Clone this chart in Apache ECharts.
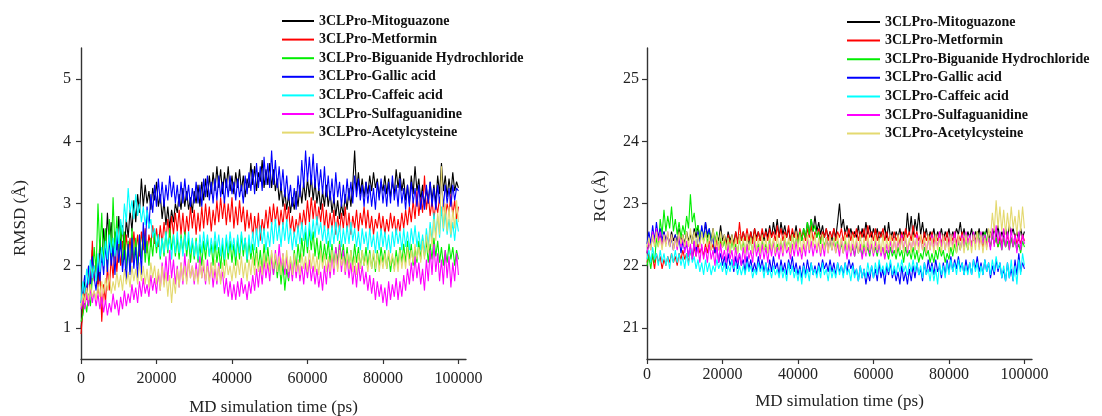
<!DOCTYPE html>
<html>
<head>
<meta charset="utf-8">
<script src="https://cdn.jsdelivr.net/npm/echarts@6/dist/echarts.min.js"></script>
<style>
  html, body { margin: 0; padding: 0; background: #fff; }
  #chart { width: 1102px; height: 416px; }
</style>
</head>
<body>
<div id="chart"></div>
<script>
// Trajectory frames are written every 500 ps over 100 ns.
const FRAME_STEP_PS = 500;

const seriesNames = [
  '3CLPro-Mitoguazone',
  '3CLPro-Metformin',
  '3CLPro-Biguanide Hydrochloride',
  '3CLPro-Gallic acid',
  '3CLPro-Caffeic acid',
  '3CLPro-Sulfaguanidine',
  '3CLPro-Acetylcysteine'
];
const seriesColors = ['#000000', '#ff0000', '#00ee00', '#0000ff', '#00ffff', '#ff00ff', '#e4d970'];

const xTicks = [0, 20000, 40000, 60000, 80000, 100000];
const rmsdTicks = [1, 2, 3, 4, 5];
const rgTicks = [21, 22, 23, 24, 25];

// RMSD (Å) per frame
const rmsdMitoguazone = [1.00,
  1.30,1.75,1.45,2.00,1.60,2.25,1.85,2.10,1.70,2.40,
  2.05,2.60,2.20,2.85,2.35,2.70,2.15,2.55,2.25,2.80,
  2.30,2.65,2.20,2.75,2.45,2.90,2.55,3.05,2.70,3.15,
  2.85,3.40,2.95,3.30,3.00,3.20,2.90,3.25,3.05,3.35,
  2.95,3.15,2.75,3.05,2.65,2.95,2.60,2.90,2.70,3.00,
  2.85,3.15,2.90,3.25,2.95,3.20,2.90,3.10,2.85,3.20,
  3.00,3.30,2.95,3.35,3.05,3.40,3.10,3.45,3.15,3.50,
  3.20,3.60,3.25,3.55,3.15,3.50,3.25,3.60,3.20,3.45,
  3.15,3.50,3.25,3.55,3.20,3.45,3.10,3.40,3.25,3.65,
  3.30,3.60,3.20,3.50,3.35,3.70,3.25,3.55,3.30,3.65,
  3.25,3.55,3.20,3.40,3.05,3.30,2.95,3.20,2.90,3.15,
  2.85,3.10,2.90,3.20,2.95,3.30,3.00,3.35,3.05,3.40,
  3.10,3.45,3.05,3.35,3.00,3.25,2.90,3.20,2.95,3.30,
  2.95,3.20,2.85,3.10,2.80,3.05,2.75,3.00,2.80,3.15,
  2.90,3.25,2.95,3.30,3.85,3.20,3.50,3.15,3.40,3.10,
  3.35,3.15,3.45,3.20,3.50,3.25,3.40,3.10,3.35,3.20,
  3.45,3.15,3.40,3.10,3.35,3.15,3.55,3.25,3.50,3.20,
  3.40,3.05,3.30,3.00,3.45,3.15,3.60,3.20,3.40,3.05,
  3.30,2.95,3.25,3.00,3.35,3.05,3.30,3.00,3.45,3.15,
  3.65,3.20,3.45,3.10,3.40,3.15,3.50,3.20,3.35,3.25];

const rmsdMetformin = [0.90,
  1.30,1.65,1.45,1.90,1.60,2.40,1.75,2.05,1.55,1.95,
  1.10,1.70,1.40,2.00,1.60,2.15,1.80,2.30,1.90,2.35,
  2.00,2.40,2.10,2.50,2.15,2.45,2.05,2.55,2.20,2.50,
  2.15,2.55,2.25,2.60,2.20,2.50,2.30,2.65,2.35,2.60,
  2.30,2.65,2.35,2.70,2.40,2.75,2.45,2.80,2.50,2.85,
  2.55,2.90,2.50,2.85,2.45,2.80,2.55,2.95,2.60,2.90,
  2.50,2.85,2.55,2.95,2.60,3.00,2.65,2.95,2.55,2.90,
  2.65,3.05,2.70,3.10,2.75,3.05,2.65,3.00,2.70,3.10,
  2.60,2.95,2.65,3.05,2.70,2.95,2.55,2.90,2.60,2.85,
  2.45,2.80,2.50,2.85,2.40,2.75,2.55,2.90,2.60,2.95,
  2.65,3.00,2.70,2.95,2.60,2.90,2.65,3.00,2.70,2.95,
  2.55,2.80,2.50,2.75,2.55,2.85,2.60,2.90,2.65,3.05,
  2.70,3.10,2.75,3.05,2.65,2.95,2.70,3.00,2.60,2.90,
  2.55,2.85,2.60,2.90,2.50,2.80,2.55,2.85,2.60,2.95,
  2.55,2.85,2.50,2.80,2.60,2.90,2.55,2.85,2.65,2.95,
  2.60,2.90,2.55,2.80,2.50,2.75,2.60,2.85,2.55,2.80,
  2.50,2.75,2.55,2.85,2.60,2.80,2.50,2.75,2.55,2.85,
  2.60,2.90,2.65,2.95,2.70,3.05,2.75,3.20,2.80,3.10,
  2.85,3.45,2.90,3.15,2.80,3.05,2.75,3.00,2.85,3.10,
  2.80,3.05,2.75,3.00,2.85,3.15,2.80,3.05,2.75,2.95];

const rmsdBiguanide = [1.10,
  1.20,1.45,1.25,1.55,1.35,1.80,2.30,1.90,3.00,2.20,
  2.85,2.00,2.60,1.90,2.75,2.10,3.10,2.25,2.80,2.05,
  2.70,2.00,2.55,1.95,2.40,1.90,2.60,2.05,2.45,2.00,
  2.50,2.10,2.55,2.05,2.40,2.00,2.45,2.15,2.55,2.20,
  2.50,2.10,2.45,2.15,2.55,2.20,2.60,2.25,2.50,2.15,
  2.45,2.10,2.50,2.20,2.55,2.15,2.45,2.05,2.40,2.10,
  2.45,2.05,2.35,2.00,2.40,2.10,2.45,2.15,2.35,2.00,
  2.40,2.05,2.30,1.95,2.35,2.00,2.45,2.10,2.40,2.05,
  2.35,2.00,2.45,2.10,2.50,2.15,2.45,2.05,2.40,2.10,
  2.35,2.00,2.30,1.95,2.25,1.90,2.35,2.00,2.30,1.95,
  2.20,1.85,2.15,1.80,2.10,1.70,2.05,1.60,1.95,1.75,
  2.10,1.85,2.25,1.95,2.35,2.05,2.45,2.15,2.55,2.20,
  2.60,2.25,2.55,2.15,2.45,2.10,2.40,2.05,2.35,2.10,
  2.40,2.05,2.35,2.00,2.30,2.05,2.40,2.10,2.35,2.00,
  2.30,1.95,2.25,2.00,2.35,2.05,2.30,1.95,2.25,2.00,
  2.30,2.00,2.25,1.95,2.20,1.90,2.25,2.00,2.30,2.05,
  2.25,1.95,2.20,1.90,2.15,1.95,2.25,2.00,2.30,2.05,
  2.35,2.05,2.40,2.10,2.35,2.00,2.30,2.05,2.40,2.10,
  2.45,2.15,2.40,2.05,2.35,2.10,2.45,2.15,2.40,2.05,
  2.30,2.00,2.25,2.05,2.35,2.10,2.30,2.00,2.25,2.10];

const rmsdGallic = [1.40,
  1.60,1.85,1.55,2.00,1.70,2.15,1.80,1.60,2.05,1.75,
  2.20,1.85,2.35,1.90,2.45,2.00,2.30,1.85,2.50,2.05,
  2.40,1.90,2.25,1.75,2.35,1.85,2.45,1.95,2.30,1.80,
  2.50,1.85,2.70,2.20,2.95,2.60,3.15,2.85,3.30,2.95,
  3.40,3.00,3.35,2.95,3.30,3.05,3.45,3.10,3.35,3.00,
  3.30,2.95,3.35,3.00,3.40,3.05,3.30,2.95,3.25,3.00,
  3.35,3.00,3.30,2.95,3.40,3.10,3.45,3.05,3.35,3.00,
  3.40,3.05,3.45,3.10,3.35,3.00,3.40,3.10,3.45,3.15,
  3.35,3.05,3.40,3.10,3.30,3.00,3.45,3.15,3.50,3.20,
  3.55,3.15,3.65,3.25,3.60,3.20,3.75,3.30,3.65,3.25,
  3.85,3.30,3.70,3.25,3.60,3.20,3.55,3.10,3.45,3.05,
  3.30,2.95,3.25,2.90,3.45,3.10,3.70,3.25,3.85,3.35,
  3.75,3.30,3.80,3.25,3.65,3.20,3.55,3.15,3.60,3.10,
  3.45,3.05,3.40,3.00,3.50,3.10,3.35,2.95,3.30,3.00,
  3.40,3.05,3.35,3.00,3.45,3.10,3.40,3.05,3.30,2.95,
  3.35,3.00,3.30,2.95,3.25,2.90,3.35,3.05,3.40,3.00,
  3.30,2.95,3.35,3.00,3.45,3.05,3.30,2.95,3.40,3.00,
  3.25,2.90,3.30,2.95,3.35,3.00,3.25,2.95,3.30,2.90,
  3.20,2.90,3.30,3.00,3.35,2.95,3.25,2.90,3.30,3.00,
  3.35,2.95,3.30,3.00,3.25,2.95,3.30,3.05,3.25,3.20];

const rmsdCaffeic = [1.40,
  1.75,1.55,1.95,1.70,2.10,1.80,2.00,1.75,2.20,1.90,
  2.30,2.00,2.40,2.10,2.50,2.20,2.45,2.15,2.60,2.35,
  2.75,2.50,3.00,2.70,3.25,2.85,3.05,2.75,3.15,2.80,
  3.00,2.70,2.95,2.65,2.90,2.60,2.75,2.45,2.60,2.30,
  2.50,2.15,2.45,2.20,2.55,2.25,2.45,2.10,2.50,2.20,
  2.55,2.20,2.45,2.15,2.50,2.25,2.55,2.20,2.45,2.15,
  2.40,2.10,2.50,2.20,2.55,2.25,2.50,2.15,2.45,2.20,
  2.55,2.25,2.50,2.15,2.45,2.10,2.50,2.20,2.55,2.25,
  2.45,2.15,2.50,2.20,2.55,2.25,2.45,2.10,2.50,2.20,
  2.55,2.25,2.60,2.30,2.65,2.35,2.60,2.25,2.55,2.30,
  2.70,2.35,2.75,2.40,2.65,2.30,2.70,2.40,2.75,2.35,
  2.60,2.25,2.55,2.30,2.65,2.35,2.70,2.40,2.65,2.30,
  2.70,2.40,2.75,2.45,2.80,2.50,2.70,2.40,2.65,2.35,
  2.60,2.30,2.65,2.35,2.70,2.40,2.65,2.30,2.60,2.35,
  2.65,2.35,2.70,2.40,2.60,2.30,2.55,2.25,2.60,2.35,
  2.55,2.25,2.60,2.30,2.50,2.20,2.55,2.25,2.60,2.30,
  2.55,2.25,2.50,2.20,2.55,2.30,2.60,2.35,2.55,2.25,
  2.60,2.30,2.55,2.25,2.60,2.35,2.65,2.30,2.55,2.25,
  2.50,2.20,2.60,2.30,2.70,2.40,2.85,2.50,2.80,2.45,
  2.95,2.55,2.85,2.50,2.75,2.45,2.70,2.40,2.75,2.55];

const rmsdSulfaguanidine = [1.30,
  1.45,1.30,1.55,1.35,1.65,1.40,1.60,1.35,1.55,1.30,
  1.50,1.25,1.45,1.20,1.40,1.25,1.55,1.30,1.45,1.20,
  1.50,1.30,1.60,1.35,1.55,1.40,1.70,1.45,1.65,1.40,
  1.75,1.50,1.80,1.55,1.70,1.50,1.85,1.60,1.80,1.55,
  1.90,1.60,2.05,1.70,2.15,1.75,2.25,1.80,2.10,1.70,
  2.00,1.65,2.05,1.70,2.20,1.75,2.10,1.80,2.00,1.70,
  2.05,1.75,2.15,1.80,2.00,1.70,2.10,1.75,2.05,1.65,
  1.95,1.70,2.05,1.75,1.90,1.55,1.80,1.50,1.75,1.45,
  1.70,1.45,1.75,1.50,1.80,1.55,1.70,1.45,1.75,1.55,
  1.85,1.60,1.95,1.65,2.00,1.70,2.10,1.80,2.05,1.75,
  2.15,1.85,2.25,1.90,2.35,1.95,2.20,1.85,2.15,1.80,
  2.05,1.75,2.15,1.80,2.10,1.75,2.00,1.70,2.05,1.80,
  2.10,1.75,2.00,1.70,1.95,1.65,1.90,1.60,2.00,1.70,
  2.10,1.80,2.20,1.85,2.30,1.95,2.35,1.90,2.25,1.85,
  2.15,1.80,2.05,1.70,2.00,1.65,2.05,1.75,2.00,1.70,
  1.90,1.60,1.85,1.55,1.80,1.45,1.75,1.50,1.70,1.40,
  1.65,1.35,1.75,1.45,1.70,1.50,1.80,1.45,1.75,1.50,
  1.85,1.60,1.95,1.70,2.05,1.75,2.15,1.80,2.05,1.70,
  1.95,1.60,2.10,1.75,2.25,1.85,2.35,1.90,2.20,1.75,
  2.10,1.70,2.25,1.80,2.15,1.65,2.05,1.75,2.20,1.85];

const rmsdAcetylcysteine = [1.35,
  1.55,1.40,1.65,1.45,1.70,1.50,1.60,1.45,1.70,1.50,
  1.75,1.55,1.80,1.60,1.85,1.55,1.75,1.60,1.90,1.65,
  1.85,1.60,1.95,1.70,1.90,1.65,2.00,1.75,1.95,1.70,
  2.05,1.75,2.00,1.70,1.95,1.65,2.05,1.80,2.00,1.70,
  1.95,1.60,2.00,1.65,1.90,1.50,1.85,1.40,1.80,1.55,
  1.95,1.65,2.05,1.75,2.00,1.70,2.10,1.80,2.00,1.75,
  1.95,1.70,2.05,1.80,2.10,1.75,2.00,1.70,2.05,1.80,
  2.10,1.75,2.00,1.70,2.05,1.80,2.10,1.85,2.00,1.75,
  2.05,1.80,2.10,1.85,2.15,1.80,2.05,1.75,2.10,1.85,
  2.15,1.85,2.20,1.90,2.10,1.85,2.20,1.95,2.15,1.90,
  2.25,1.95,2.20,1.90,2.15,1.85,2.20,1.95,2.25,1.90,
  2.15,1.85,2.20,1.90,2.10,1.85,2.20,1.95,2.15,1.90,
  2.25,1.95,2.20,1.90,2.15,1.85,2.25,1.95,2.20,1.90,
  2.15,1.90,2.25,1.95,2.20,1.90,2.25,2.00,2.15,1.90,
  2.20,1.95,2.25,1.90,2.15,1.85,2.20,1.95,2.25,2.00,
  2.15,1.90,2.20,1.95,2.25,1.95,2.20,1.90,2.15,1.95,
  2.20,1.95,2.25,2.00,2.20,1.90,2.15,1.90,2.25,1.95,
  2.20,1.95,2.30,2.00,2.25,2.05,2.35,2.10,2.30,2.05,
  2.40,2.10,2.50,2.20,2.60,2.30,2.75,2.40,2.85,2.50,
  3.60,2.60,3.00,2.55,2.95,2.50,2.90,2.60,3.05,2.70];

// Radius of gyration (Å) per frame
const rgMitoguazone = [22.20,
  22.40,22.30,22.50,22.35,22.55,22.40,22.50,22.35,22.55,22.40,
  22.50,22.35,22.55,22.40,22.50,22.35,22.60,22.40,22.50,22.35,
  22.55,22.40,22.50,22.35,22.60,22.45,22.65,22.40,22.55,22.40,
  22.70,22.45,22.55,22.40,22.60,22.35,22.50,22.40,22.65,22.40,
  22.50,22.35,22.55,22.40,22.50,22.35,22.55,22.40,22.50,22.40,
  22.55,22.40,22.50,22.35,22.55,22.40,22.60,22.45,22.55,22.40,
  22.55,22.40,22.60,22.45,22.65,22.45,22.70,22.50,22.75,22.45,
  22.70,22.50,22.65,22.45,22.60,22.40,22.55,22.45,22.65,22.40,
  22.55,22.40,22.60,22.45,22.70,22.50,22.75,22.55,22.80,22.55,
  22.70,22.50,22.65,22.45,22.60,22.45,22.55,22.40,22.60,22.45,
  22.70,23.00,22.60,22.75,22.50,22.65,22.45,22.60,22.45,22.55,
  22.45,22.65,22.40,22.60,22.45,22.70,22.50,22.65,22.45,22.60,
  22.45,22.60,22.40,22.55,22.45,22.65,22.40,22.70,22.45,22.55,
  22.40,22.55,22.45,22.60,22.40,22.55,22.45,22.85,22.50,22.80,
  22.45,22.75,22.55,22.85,22.50,22.70,22.45,22.60,22.40,22.55,
  22.45,22.60,22.40,22.55,22.45,22.60,22.40,22.55,22.45,22.60,
  22.40,22.55,22.45,22.60,22.50,22.70,22.45,22.60,22.40,22.55,
  22.45,22.60,22.40,22.55,22.45,22.60,22.40,22.55,22.45,22.60,
  22.40,22.55,22.45,22.60,22.45,22.65,22.40,22.55,22.45,22.60,
  22.45,22.65,22.50,22.60,22.45,22.55,22.40,22.60,22.45,22.55];

const rgMetformin = [22.05,
  22.20,22.05,22.15,21.95,22.20,22.05,22.15,21.95,22.10,22.00,
  22.15,22.05,22.20,22.05,22.15,22.00,22.20,22.10,22.25,22.10,
  22.20,22.05,22.25,22.10,22.30,22.15,22.35,22.20,22.30,22.15,
  22.35,22.20,22.40,22.25,22.35,22.20,22.45,22.25,22.40,22.30,
  22.45,22.30,22.50,22.35,22.45,22.30,22.55,22.35,22.70,22.40,
  22.55,22.40,22.60,22.40,22.55,22.35,22.60,22.40,22.55,22.40,
  22.60,22.45,22.55,22.40,22.60,22.45,22.55,22.40,22.65,22.45,
  22.60,22.40,22.55,22.45,22.65,22.40,22.60,22.45,22.55,22.40,
  22.60,22.45,22.55,22.40,22.60,22.45,22.65,22.40,22.55,22.45,
  22.60,22.40,22.55,22.45,22.60,22.40,22.55,22.45,22.60,22.40,
  22.55,22.45,22.60,22.40,22.55,22.45,22.60,22.40,22.55,22.45,
  22.60,22.40,22.55,22.45,22.60,22.40,22.65,22.45,22.55,22.40,
  22.60,22.40,22.55,22.45,22.60,22.40,22.55,22.40,22.50,22.40,
  22.55,22.40,22.50,22.35,22.55,22.40,22.60,22.45,22.55,22.40,
  22.65,22.45,22.55,22.40,22.50,22.35,22.55,22.40,22.50,22.40,
  22.55,22.35,22.50,22.40,22.55,22.35,22.50,22.40,22.55,22.35,
  22.50,22.40,22.55,22.35,22.50,22.40,22.55,22.35,22.50,22.40,
  22.45,22.35,22.50,22.40,22.55,22.35,22.45,22.30,22.50,22.35,
  22.45,22.30,22.50,22.35,22.45,22.30,22.50,22.35,22.45,22.30,
  22.50,22.35,22.45,22.30,22.50,22.35,22.45,22.35,22.50,22.40];

const rgBiguanide = [22.00,
  22.15,21.95,22.20,22.05,22.45,22.30,22.75,22.50,22.90,22.55,
  22.80,22.60,22.95,22.55,22.75,22.50,22.70,22.45,22.65,22.50,
  22.80,22.60,23.15,22.70,22.85,22.55,22.65,22.45,22.60,22.40,
  22.55,22.35,22.60,22.40,22.50,22.35,22.55,22.30,22.45,22.30,
  22.40,22.25,22.45,22.20,22.40,22.25,22.35,22.20,22.45,22.25,
  22.40,22.20,22.35,22.25,22.45,22.20,22.40,22.25,22.35,22.20,
  22.40,22.25,22.35,22.20,22.45,22.25,22.40,22.20,22.35,22.25,
  22.40,22.25,22.45,22.30,22.40,22.25,22.50,22.30,22.45,22.35,
  22.55,22.40,22.60,22.45,22.70,22.50,22.75,22.55,22.65,22.45,
  22.55,22.35,22.50,22.30,22.45,22.30,22.40,22.25,22.45,22.30,
  22.40,22.25,22.35,22.20,22.40,22.25,22.35,22.20,22.30,22.15,
  22.35,22.20,22.30,22.15,22.35,22.20,22.30,22.15,22.35,22.20,
  22.30,22.15,22.35,22.20,22.30,22.15,22.25,22.10,22.30,22.15,
  22.25,22.10,22.30,22.15,22.25,22.05,22.30,22.15,22.25,22.10,
  22.30,22.10,22.25,22.05,22.20,22.10,22.30,22.15,22.25,22.05,
  22.20,22.05,22.25,22.10,22.30,22.15,22.25,22.05,22.20,22.10,
  22.30,22.15,22.35,22.20,22.40,22.25,22.45,22.30,22.40,22.25,
  22.45,22.30,22.50,22.35,22.55,22.40,22.50,22.35,22.55,22.40,
  22.45,22.30,22.50,22.35,22.45,22.30,22.40,22.25,22.45,22.30,
  22.40,22.25,22.45,22.30,22.40,22.25,22.35,22.20,22.40,22.30];

const rgGallic = [22.35,
  22.55,22.35,22.65,22.40,22.70,22.45,22.60,22.40,22.55,22.35,
  22.50,22.30,22.45,22.25,22.50,22.30,22.45,22.20,22.40,22.25,
  22.35,22.15,22.30,22.10,22.40,22.20,22.55,22.35,22.65,22.45,
  22.70,22.50,22.60,22.35,22.45,22.20,22.30,22.05,22.20,22.00,
  22.15,21.95,22.20,22.00,22.10,21.90,22.15,21.95,22.20,22.00,
  22.10,21.90,22.15,21.95,22.10,21.90,22.05,21.90,22.15,21.95,
  22.10,21.90,22.05,21.85,22.10,21.90,22.15,21.95,22.05,21.85,
  22.10,21.90,22.05,21.85,22.10,21.95,22.15,21.90,22.05,21.85,
  22.00,21.80,22.05,21.85,22.10,21.90,22.05,21.85,22.00,21.85,
  22.05,21.90,22.10,21.95,22.05,21.90,22.10,21.90,22.05,21.85,
  22.05,21.90,22.00,21.85,22.05,21.90,22.10,21.95,22.05,21.85,
  21.95,21.75,22.00,21.80,21.95,21.70,21.90,21.75,22.00,21.80,
  21.95,21.75,22.05,21.80,21.95,21.70,22.00,21.85,22.05,21.80,
  21.95,21.75,21.90,21.70,22.00,21.75,21.90,21.70,21.95,21.75,
  22.00,21.80,22.05,21.85,21.95,21.75,22.05,21.85,22.10,21.90,
  22.05,21.85,22.10,21.90,22.00,21.80,22.05,21.85,22.10,21.90,
  22.15,21.90,22.10,21.95,22.15,21.95,22.05,21.85,22.10,21.90,
  22.05,21.85,22.10,21.95,22.15,21.90,22.05,21.85,22.10,21.90,
  22.05,21.80,22.00,21.85,22.10,21.90,22.05,21.80,21.95,21.75,
  22.05,21.80,21.95,21.75,22.10,21.85,22.20,21.90,22.05,21.95];

const rgCaffeic = [22.10,
  22.25,22.05,22.30,22.10,22.20,22.00,22.25,22.05,22.20,22.00,
  22.15,21.95,22.20,22.05,22.25,22.05,22.20,22.00,22.15,21.95,
  22.20,22.00,22.30,22.05,22.15,21.95,22.10,21.90,22.05,21.85,
  22.10,21.90,22.05,21.85,22.00,21.90,22.10,21.95,22.05,21.90,
  22.05,21.85,22.00,21.90,22.10,21.95,22.05,21.85,22.00,21.85,
  22.00,21.85,22.05,21.90,22.00,21.80,21.95,21.85,22.05,21.90,
  22.00,21.80,22.05,21.85,21.95,21.80,22.00,21.85,21.95,21.80,
  22.00,21.80,21.95,21.75,22.05,21.85,22.00,21.80,21.95,21.75,
  21.95,21.70,22.00,21.80,21.95,21.75,22.05,21.85,21.95,21.80,
  22.00,21.80,22.05,21.85,21.95,21.75,22.00,21.80,21.95,21.80,
  22.05,21.85,22.00,21.80,22.05,21.85,21.95,21.75,22.00,21.80,
  21.95,21.75,22.00,21.80,21.95,21.80,22.05,21.85,22.00,21.80,
  22.05,21.85,22.10,21.90,22.00,21.85,22.05,21.90,22.10,21.85,
  22.00,21.85,22.05,21.90,22.10,21.90,22.00,21.85,22.05,21.90,
  22.10,21.90,22.05,21.85,22.00,21.80,22.05,21.85,21.95,21.75,
  22.00,21.75,21.95,21.70,22.05,21.85,22.00,21.80,22.05,21.85,
  22.10,21.90,22.05,21.85,22.10,21.90,22.05,21.85,22.00,21.85,
  22.05,21.85,22.10,21.90,22.05,21.80,22.00,21.85,22.10,21.90,
  22.05,21.85,22.10,21.90,22.15,21.95,22.05,21.80,22.00,21.75,
  22.05,21.80,22.10,21.75,22.00,21.70,22.10,21.85,22.20,22.00];

const rgSulfaguanidine = [22.20,
  22.40,22.25,22.55,22.35,22.60,22.40,22.55,22.30,22.50,22.35,
  22.55,22.30,22.50,22.25,22.45,22.25,22.50,22.30,22.45,22.20,
  22.40,22.15,22.35,22.10,22.40,22.15,22.30,22.05,22.35,22.10,
  22.30,22.05,22.35,22.10,22.25,22.00,22.30,22.05,22.35,22.10,
  22.25,22.05,22.35,22.10,22.25,22.00,22.30,22.05,22.20,22.00,
  22.30,22.05,22.35,22.10,22.25,22.05,22.40,22.15,22.30,22.10,
  22.35,22.10,22.30,22.05,22.35,22.15,22.40,22.15,22.30,22.10,
  22.35,22.15,22.40,22.20,22.30,22.10,22.35,22.15,22.40,22.15,
  22.30,22.10,22.35,22.15,22.45,22.20,22.40,22.15,22.35,22.20,
  22.40,22.15,22.35,22.15,22.45,22.20,22.50,22.25,22.40,22.20,
  22.35,22.15,22.45,22.20,22.35,22.10,22.40,22.15,22.35,22.15,
  22.40,22.20,22.35,22.10,22.30,22.15,22.40,22.20,22.35,22.15,
  22.40,22.20,22.35,22.15,22.30,22.10,22.35,22.20,22.40,22.20,
  22.45,22.20,22.40,22.25,22.50,22.25,22.45,22.20,22.40,22.25,
  22.45,22.25,22.50,22.30,22.45,22.25,22.40,22.20,22.45,22.25,
  22.50,22.25,22.45,22.30,22.55,22.30,22.50,22.25,22.45,22.30,
  22.50,22.30,22.55,22.30,22.45,22.25,22.50,22.30,22.55,22.35,
  22.50,22.30,22.55,22.35,22.50,22.30,22.55,22.35,22.50,22.30,
  22.45,22.25,22.60,22.30,22.65,22.35,22.55,22.25,22.60,22.30,
  22.55,22.25,22.60,22.30,22.50,22.20,22.55,22.25,22.50,22.35];

const rgAcetylcysteine = [22.30,
  22.45,22.25,22.50,22.30,22.55,22.30,22.45,22.25,22.50,22.30,
  22.55,22.30,22.50,22.25,22.45,22.30,22.55,22.35,22.50,22.30,
  22.55,22.30,22.60,22.35,22.55,22.30,22.50,22.30,22.55,22.35,
  22.55,22.30,22.50,22.25,22.60,22.30,22.50,22.25,22.55,22.30,
  22.50,22.25,22.45,22.20,22.50,22.25,22.45,22.20,22.50,22.25,
  22.45,22.20,22.50,22.25,22.45,22.20,22.50,22.25,22.45,22.20,
  22.50,22.25,22.45,22.20,22.50,22.25,22.45,22.20,22.50,22.25,
  22.45,22.20,22.50,22.25,22.45,22.20,22.50,22.25,22.55,22.25,
  22.50,22.20,22.45,22.25,22.50,22.25,22.55,22.30,22.50,22.25,
  22.45,22.20,22.50,22.25,22.45,22.20,22.50,22.25,22.45,22.20,
  22.50,22.25,22.45,22.20,22.50,22.25,22.45,22.20,22.50,22.25,
  22.45,22.20,22.50,22.25,22.45,22.20,22.50,22.25,22.45,22.20,
  22.50,22.25,22.45,22.20,22.50,22.20,22.45,22.25,22.50,22.25,
  22.45,22.20,22.50,22.25,22.45,22.20,22.50,22.25,22.45,22.20,
  22.50,22.25,22.45,22.20,22.50,22.25,22.45,22.20,22.50,22.25,
  22.45,22.20,22.50,22.25,22.45,22.20,22.50,22.25,22.45,22.20,
  22.50,22.25,22.45,22.20,22.50,22.25,22.45,22.20,22.50,22.25,
  22.45,22.20,22.50,22.25,22.55,22.25,22.50,22.20,22.45,22.25,
  22.60,22.45,22.85,22.55,23.05,22.60,22.95,22.55,22.90,22.50,
  22.85,22.55,22.95,22.60,22.80,22.50,22.90,22.55,22.95,22.60];

const rmsdSets = [rmsdMitoguazone, rmsdMetformin, rmsdBiguanide, rmsdGallic, rmsdCaffeic, rmsdSulfaguanidine, rmsdAcetylcysteine];
const rgSets = [rgMitoguazone, rgMetformin, rgBiguanide, rgGallic, rgCaffeic, rgSulfaguanidine, rgAcetylcysteine];

const FONT = '"Liberation Serif", "Times New Roman", serif';
const INK = '#222';

function pairs(values) {
  return values.map((v, i) => [i * FRAME_STEP_PS, v]);
}

function xAxisFor(gridIndex, labelMargin, nameGap) {
  return {
    type: 'value', gridIndex, min: 0, max: 102000,
    axisLine: { show: true, lineStyle: { color: '#333', width: 1.4 } },
    axisTick: { show: true, customValues: xTicks, length: 5, lineStyle: { color: '#333', width: 1.2 } },
    axisLabel: { customValues: xTicks, formatter: v => String(v), fontFamily: FONT, fontSize: 16, color: INK, margin: labelMargin },
    splitLine: { show: false },
    name: 'MD simulation time (ps)', nameLocation: 'middle', nameGap,
    nameTextStyle: { fontFamily: FONT, fontSize: 17, color: INK }
  };
}

function yAxisFor(gridIndex, min, max, ticks, labelMargin) {
  return {
    type: 'value', gridIndex, min, max,
    axisLine: { show: true, lineStyle: { color: '#333', width: 1.4 } },
    axisTick: { show: true, customValues: ticks, length: 5, lineStyle: { color: '#333', width: 1.2 } },
    axisLabel: { customValues: ticks, formatter: v => String(v), fontFamily: FONT, fontSize: 16, color: INK, margin: labelMargin },
    splitLine: { show: false }
  };
}

function legendFor(left, top, width) {
  return {
    orient: 'vertical', left, top, padding: 0,
    icon: 'rect', itemWidth: width, itemHeight: 2, itemGap: 2.6,
    data: seriesNames,
    textStyle: { fontFamily: FONT, fontSize: 14, fontWeight: 'bold', color: '#111', lineHeight: 16 },
    selectedMode: false
  };
}

const series = [];
rmsdSets.forEach((vals, k) => series.push({
  name: seriesNames[k], type: 'line', xAxisIndex: 0, yAxisIndex: 0,
  data: pairs(vals), showSymbol: false, symbol: 'none',
  lineStyle: { width: 1.1, color: seriesColors[k] }, itemStyle: { color: seriesColors[k] },
  animation: false
}));
rgSets.forEach((vals, k) => series.push({
  name: seriesNames[k], type: 'line', xAxisIndex: 1, yAxisIndex: 1,
  data: pairs(vals), showSymbol: false, symbol: 'none',
  lineStyle: { width: 1.1, color: seriesColors[k] }, itemStyle: { color: seriesColors[k] },
  animation: false
}));

const chart = echarts.init(document.getElementById('chart'), null, { renderer: 'canvas' });
chart.setOption({
  backgroundColor: '#fff',
  animation: false,
  grid: [
    { left: 81, right: 636, top: 48, bottom: 57, outerBoundsMode: 'none' },
    { left: 647, right: 70, top: 48, bottom: 57, outerBoundsMode: 'none' }
  ],
  xAxis: [xAxisFor(0, 12, 40), xAxisFor(1, 8, 34)],
  yAxis: [yAxisFor(0, 0.5, 5.5, rmsdTicks, 10), yAxisFor(1, 20.5, 25.5, rgTicks, 8)],
  legend: [legendFor(282, 13, 32), legendFor(847, 14, 33)],
  graphic: [
    { type: 'text', x: 21, y: 218, rotation: Math.PI / 2,
      style: { text: 'RMSD (Å)', font: '17px ' + FONT, fill: INK, align: 'center', verticalAlign: 'middle', textAlign: 'center', textVerticalAlign: 'middle' } },
    { type: 'text', x: 601, y: 196, rotation: Math.PI / 2,
      style: { text: 'RG (Å)', font: '17px ' + FONT, fill: INK, align: 'center', verticalAlign: 'middle', textAlign: 'center', textVerticalAlign: 'middle' } }
  ],
  series
});
</script>
</body>
</html>
